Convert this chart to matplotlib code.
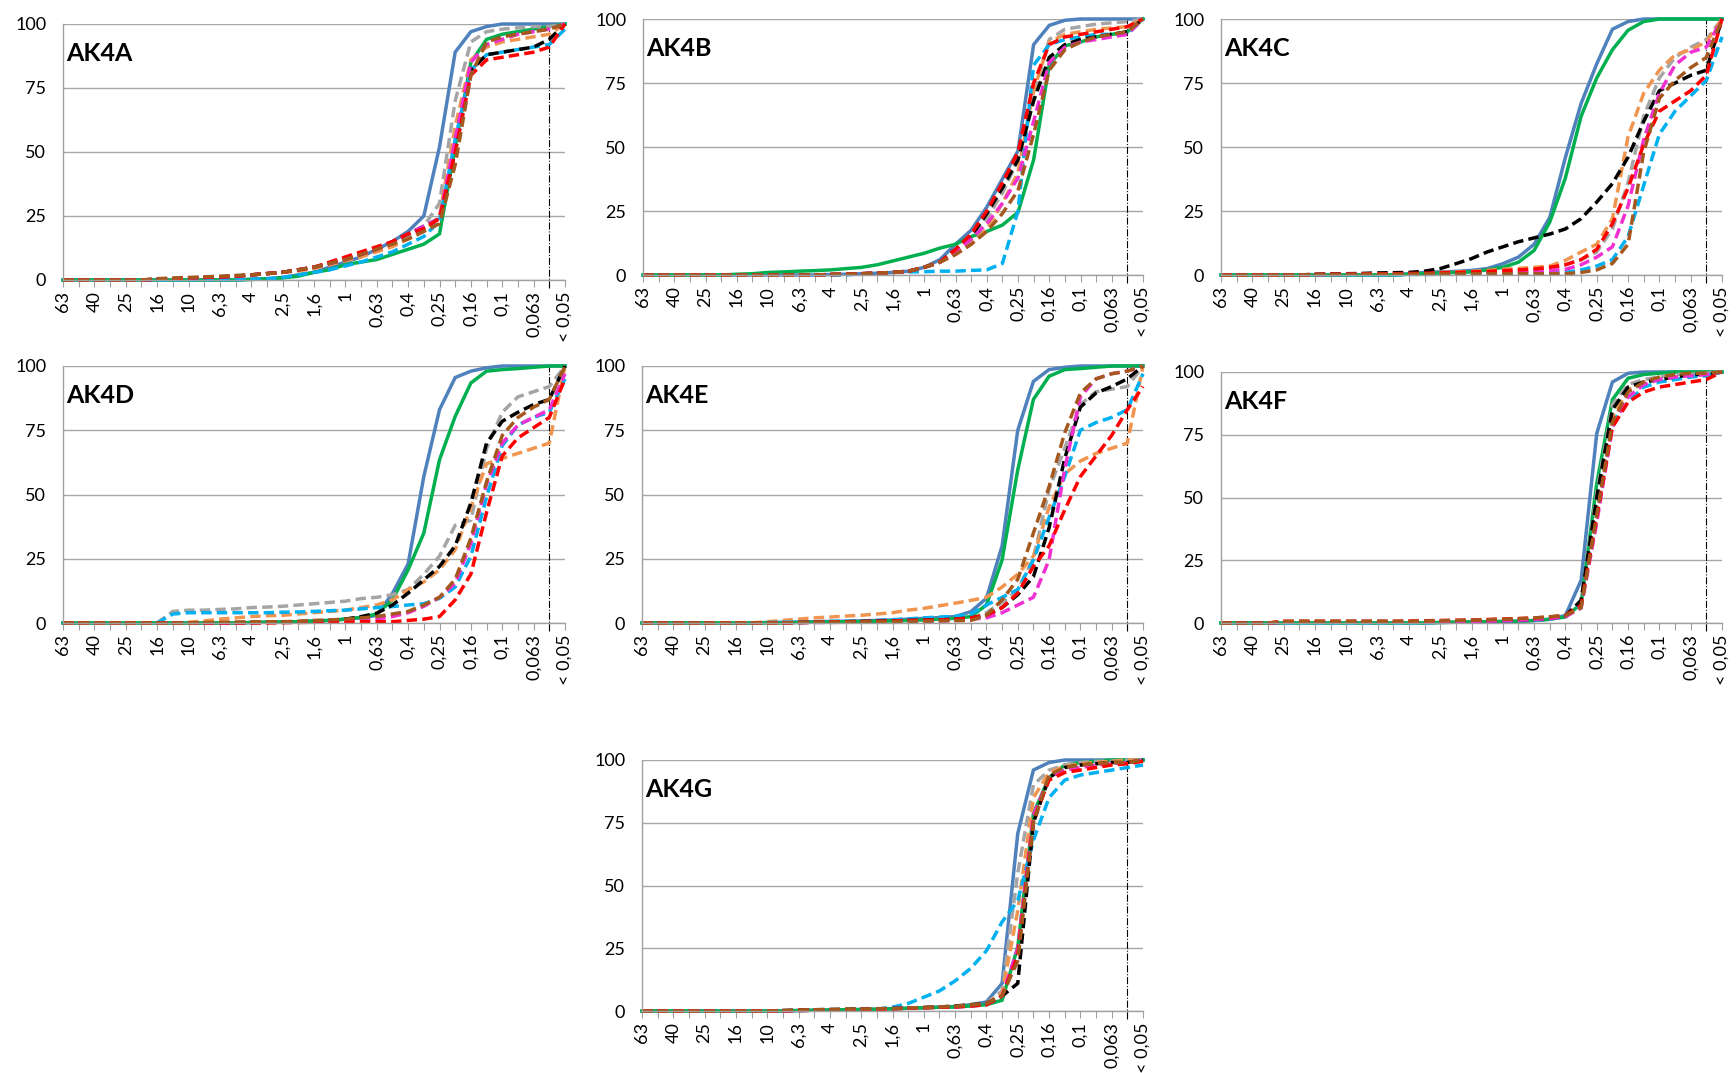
import matplotlib.pyplot as plt

plt.rcParams['font.family'] = ['Lato', 'DejaVu Sans']

# sieve sizes (mm); only every second one is labelled on the chart
tick_labels = ['63', '', '40', '', '25', '', '16', '', '10', '', '6,3', '', '4', '',
               '2,5', '', '1,6', '', '1', '', '0,63', '', '0,4', '', '0,25', '',
               '0,16', '', '0,1', '', '0,063', '', '< 0,05']
cutoff = 31  # position of the dash-dot marker line

series = ['blue', 'green', 'gray', 'orange', 'cyan', 'black', 'magenta', 'red', 'brown']
colors = {'blue': '#4F81BD', 'green': '#00B050', 'gray': '#A5A5A5', 'orange': '#F0954F',
          'cyan': '#00B0F0', 'black': '#000000', 'magenta': '#F030D0', 'red': '#FF0000',
          'brown': '#A5581E'}

AK4A = {
    'blue':    [0]*12 + [0.3, 0.5, 1, 2, 3, 5, 7, 9] + [12, 15, 19, 25, 52, 89, 97, 99, 100, 100, 100, 100, 100],
    'green':   [0]*12 + [0.2, 0.4, 0.8, 1.5, 3, 4, 6, 7] + [8, 10, 12, 14, 18, 52, 85, 94, 96, 97, 98, 99, 100],
    'gray':    [0]*6 + [0.3, 0.5, 0.8, 1, 1.2, 1.5, 2, 2.5, 3, 4, 5, 6.5, 8, 10] + [12, 14, 17, 21, 30, 70, 93, 97, 98, 98.5, 99, 99, 100],
    'orange':  [0]*6 + [0.3, 0.5, 0.8, 1, 1.2, 1.5, 2, 2.5, 3, 3.5, 4.5, 6, 7.5, 9] + [11, 13, 16, 19, 25, 60, 86, 91, 93, 94, 95, 96, 100],
    'brown':   [0]*6 + [0.5, 0.8, 1, 1.2, 1.5, 1.8, 2, 2.5, 3, 4, 5, 6.5, 8, 10] + [12, 14, 16, 19, 22, 45, 80, 93, 95, 96, 97, 98, 100],
    'black':   [0]*6 + [0.3, 0.5, 0.8, 1, 1.2, 1.5, 2, 2.5, 3, 4, 5, 6.5, 8, 10] + [12, 15, 18, 21, 24, 50, 82, 88, 89, 90, 91, 94, 100],
    'magenta': [0]*6 + [0.3, 0.5, 0.8, 1, 1.2, 1.5, 2, 2.5, 3, 4, 5, 6.5, 8, 10] + [12, 15, 18, 21, 24, 55, 85, 92, 94, 96, 97, 98, 100],
    'red':     [0]*6 + [0.3, 0.5, 0.8, 1, 1.2, 1.5, 2, 2.5, 3, 4, 5, 7, 9, 11] + [13, 15, 18, 20, 24, 50, 80, 86, 87, 88, 89, 91, 100],
    'cyan':    [0]*12 + [0.3, 0.5, 1, 2, 3, 4, 5.5, 7] + [9, 11, 14, 17, 23, 55, 82, 88, 89, 90, 91, 92, 98],
}

AK4B = {
    'blue':    [0]*12 + [0.2, 0.3, 0.5, 0.7, 1, 1.5, 3, 6] + [12, 17.5, 26.5, 37.5, 48.5, 90, 97.5, 99.5, 100, 100, 100, 100, 100],
    'green':   [0]*6 + [0.3, 0.5, 1, 1.2, 1.5, 1.7, 2, 2.5, 3, 4, 5.5, 7, 8.5, 10.5] + [12, 15, 17, 19.5, 24.5, 45, 82, 89.5, 91, 93, 94, 95, 100],
    'gray':    [0]*12 + [0.2, 0.3, 0.5, 0.7, 1, 1.5, 3, 5] + [9, 14, 22, 32, 45, 70, 92, 96, 97, 98, 98.5, 99, 100],
    'orange':  [0]*12 + [0.2, 0.3, 0.5, 0.7, 1, 1.5, 3, 5] + [8, 12, 18, 28, 40, 72, 91, 94, 95, 96, 96.5, 97, 100],
    'brown':   [0]*12 + [0.2, 0.3, 0.5, 0.7, 1, 1.5, 3, 5] + [8, 12, 17, 24, 33, 55, 80, 88, 91, 93, 94, 95, 100],
    'black':   [0]*12 + [0.2, 0.3, 0.5, 0.7, 1, 1.5, 3, 5] + [10, 15, 24, 34, 45, 68, 85, 90, 92, 93, 94, 95, 100],
    'magenta': [0]*12 + [0.2, 0.3, 0.5, 0.7, 1, 1.5, 3, 5] + [9, 14, 20, 28, 38, 60, 83, 89, 91, 92, 93, 94, 100],
    'red':     [0]*12 + [0.2, 0.3, 0.5, 0.7, 1, 1.5, 3, 5] + [10, 16, 25, 36, 48, 75, 90, 93, 94, 95, 96, 97, 100],
    'cyan':    [0]*14 + [0.5, 0.7, 1, 1.2, 1.3, 1.5] + [1.5, 1.8, 2, 4.5, 25, 82, 90, 92, 93, 94, 94, 94, 100],
}

AK4C = {
    'blue':    [0]*12 + [0.5, 1, 1.2, 1.4, 1.8, 2.5, 4.4, 7] + [12, 22.5, 46, 67, 82.5, 96, 99, 100, 100, 100, 100, 100, 100],
    'green':   [0]*12 + [0.3, 0.5, 0.8, 1, 1.2, 2, 3, 5] + [9.6, 20.7, 38, 62, 77, 88, 95.6, 99, 100, 100, 100, 100, 100],
    'black':   [0]*6 + [0.3, 0.4, 0.5, 0.6, 0.8, 0.9, 1, 1.5, 2.5, 4.4, 6.4, 9, 11, 13] + [14.5, 16, 18, 22, 28.5, 35.7, 46, 60, 72, 75, 78, 80, 100],
    'orange':  [0]*6 + [0.2, 0.3, 0.4, 0.5, 0.6, 0.7, 0.8, 0.9, 1, 1.2, 1.4, 1.8, 2.2, 2.6] + [3, 3.5, 5.7, 9, 12, 22, 54, 71, 80, 86, 88, 91, 100],
    'gray':    [0]*6 + [0.2, 0.3, 0.3, 0.4, 0.4, 0.5, 0.5, 0.6, 0.7, 0.8, 0.9, 1, 1.2, 1.5] + [2, 2.5, 4, 6, 9, 18, 36, 62, 77, 85, 89, 92, 100],
    'magenta': [0]*6 + [0.2, 0.2, 0.3, 0.3, 0.4, 0.4, 0.5, 0.5, 0.6, 0.7, 0.8, 0.9, 1, 1.2] + [1.5, 1.8, 2.2, 4, 7, 11, 27, 53, 71, 82, 87, 89, 100],
    'red':     [0]*6 + [0.2, 0.3, 0.3, 0.4, 0.5, 0.5, 0.6, 0.7, 0.8, 1, 1.2, 1.4, 1.7, 2] + [2.3, 3, 4, 6, 10, 20, 34, 51, 64, 68, 72, 78, 100],
    'cyan':    [0]*12 + [0.2, 0.2, 0.3, 0.3, 0.4, 0.5, 0.5, 0.6] + [0.7, 0.8, 1, 2, 3.5, 6, 15, 35, 55, 64, 70, 76, 93],
    'brown':   [0]*6 + [0.2, 0.2, 0.2, 0.3, 0.3, 0.3, 0.3, 0.4, 0.4, 0.4, 0.5, 0.5, 0.5, 0.5] + [0.5, 0.5, 0.5, 1, 2, 4.5, 12, 48, 69, 76, 81, 85, 100],
}

AK4D = {
    'blue':    [0]*12 + [0.2, 0.3, 0.4, 0.5, 0.8, 1, 1.5, 2] + [3, 11.5, 23, 57, 83, 95.5, 98, 99.3, 100, 100, 100, 100, 100],
    'green':   [0]*12 + [0.2, 0.3, 0.4, 0.5, 0.8, 1, 1.5, 2.2] + [3.5, 9, 20.7, 35, 63.5, 80.4, 93.4, 98, 98.6, 99, 99.5, 100, 100],
    'gray':    [0]*7 + [4.5, 5, 5, 5.3, 5.5, 6, 6.2, 6.5, 7, 7.5, 8, 8.5, 9.5] + [10, 11, 13, 19, 26, 38, 40, 68, 82, 88, 90, 92, 100],
    'cyan':    [0]*7 + [3.5, 4, 4, 4, 4, 4, 4, 4.2, 4.3, 4.5, 4.8, 5, 5.5] + [6, 6.4, 7, 7.5, 9.6, 14, 26, 49, 69, 77, 80, 82, 95],
    'orange':  [0]*8 + [0.3, 0.8, 1.5, 2, 2.5, 2.8, 3, 3.5, 4, 4.5, 5, 6] + [7, 9, 12.9, 16, 20.7, 28.5, 45, 62, 64, 66, 68, 70, 100],
    'brown':   [0]*9 + [0.2, 0.3, 0.4, 0.5, 0.5, 0.5, 0.7, 1, 1.2, 1.5, 2] + [2.5, 3.5, 4.5, 7, 10, 17, 33, 55, 73, 80, 84, 87, 100],
    'black':   [0]*12 + [0.2, 0.3, 0.4, 0.5, 0.7, 1, 1.5, 2.5] + [3.8, 7, 11.6, 16.8, 22, 30, 46.7, 70, 78.5, 82, 85, 87, 100],
    'magenta': [0]*12 + [0.1, 0.2, 0.3, 0.4, 0.5, 0.6, 0.8, 1.1] + [1.5, 2.5, 4, 6.5, 10, 15.5, 31, 54, 70, 77, 80, 83, 97],
    'red':     [0]*14 + [0.1, 0.2, 0.3, 0.3, 0.4, 0.5] + [0.5, 0.5, 1, 1.5, 2.5, 9, 19, 43, 65, 72, 76, 80, 95],
}

AK4E = {
    'blue':    [0]*8 + [0.2, 0.3, 0.4, 0.5, 0.6, 0.7, 0.8, 1, 1.2, 1.5, 1.8, 2.1] + [2.5, 4.4, 9.6, 30, 75, 94, 98.6, 99.5, 100, 100, 100, 100, 100],
    'green':   [0]*10 + [0.2, 0.3, 0.4, 0.5, 0.6, 0.7, 0.8, 1, 1.2, 1.5] + [1.8, 2.5, 7, 24.5, 59.6, 87, 96, 98.6, 99, 99.5, 100, 100, 100],
    'orange':  [0]*8 + [0.5, 1, 1.5, 2, 2.3, 2.7, 3, 3.5, 4, 5, 5.7, 6.7] + [7.7, 8.8, 10, 14, 19, 26, 45, 58, 63, 66, 68, 70, 100],
    'brown':   [0]*10 + [0.2, 0.3, 0.3, 0.4, 0.4, 0.5, 0.5, 0.6, 0.7, 0.8] + [0.9, 1, 3, 9, 17, 35, 53, 74, 89.5, 95, 97, 98, 100],
    'gray':    [0]*10 + [0.2, 0.3, 0.4, 0.5, 0.6, 0.7, 0.8, 1, 1.1, 1.2] + [1.5, 2, 4, 8, 13, 25, 52, 68, 85, 90, 91, 92, 100],
    'black':   [0]*10 + [0.2, 0.3, 0.4, 0.5, 0.6, 0.7, 0.8, 1, 1.1, 1.2] + [1.5, 2, 3, 6, 11, 18, 37, 64, 84, 89.5, 92, 95, 100],
    'magenta': [0]*10 + [0.1, 0.2, 0.2, 0.3, 0.3, 0.4, 0.5, 0.6, 0.7, 0.8] + [1, 1.5, 2, 4, 7, 10, 24.5, 60, 88, 95, 97, 98, 100],
    'red':     [0]*10 + [0.2, 0.3, 0.4, 0.5, 0.6, 0.7, 0.8, 1, 1.1, 1.2] + [1.5, 2, 3, 6, 11.6, 22, 30, 44, 57, 65, 73, 83, 92],
    'cyan':    [0]*8 + [0.2, 0.3, 0.4, 0.5, 0.6, 0.7, 0.8, 1, 1.3, 1.6, 2, 2.3] + [2.6, 3.5, 7, 10, 13, 24.5, 41, 57, 75, 78, 80, 83, 97],
}

AK4F = {
    'blue':    [0]*14 + [0.2, 0.3, 0.4, 0.5, 0.6, 0.7] + [1, 1.5, 3, 17, 75.5, 96, 99.5, 100, 100, 100, 100, 100, 100],
    'green':   [0]*14 + [0.2, 0.3, 0.4, 0.5, 0.6, 0.7] + [1, 1.5, 2.4, 7.7, 55.6, 89, 97.5, 99, 99.5, 100, 100, 100, 100],
    'gray':    [0]*14 + [0.3, 0.4, 0.5, 0.6, 0.8, 1] + [1.2, 1.6, 2.5, 9, 52, 87, 95, 97, 98, 99, 99, 99.5, 100],
    'orange':  [0]*4 + [0.4, 0.5, 0.5, 0.5, 0.5, 0.5, 0.5, 0.5, 0.5, 0.6, 0.7, 0.8, 0.9, 1, 1.2, 1.4] + [1.7, 2.2, 3, 8, 46, 82, 93, 96, 97.5, 98, 99, 99.5, 100],
    'brown':   [0]*4 + [0.6, 0.7, 0.7, 0.7, 0.7, 0.7, 0.7, 0.7, 0.7, 0.8, 0.9, 1, 1.1, 1.3, 1.5, 1.7] + [2, 2.5, 3, 6, 43, 80, 92, 96, 98, 99, 99.5, 99.5, 100],
    'black':   [0]*4 + [0.3]*10 + [0.4, 0.5, 0.6, 0.7, 0.9, 1.1] + [1.4, 1.8, 2.8, 9, 50, 85, 94, 96, 97, 98, 99, 99, 100],
    'magenta': [0]*4 + [0.3]*10 + [0.4, 0.5, 0.6, 0.7, 0.9, 1.1] + [1.4, 1.8, 2.5, 6, 40, 78, 90, 95, 97, 98, 98.5, 99, 100],
    'red':     [0]*4 + [0.7, 0.7, 0.7, 0.7, 0.7, 0.7, 0.7, 0.7, 0.8, 0.9, 1, 1.1, 1.2, 1.4, 1.6, 1.8] + [2, 2.4, 3, 7, 42, 78, 88, 92, 94, 95, 96, 97, 100],
    'cyan':    [0]*14 + [0.3, 0.4, 0.5, 0.6, 0.8, 1] + [1.2, 1.6, 2.6, 8, 45, 80, 88, 94, 96, 97, 98, 98.5, 100],
}

AK4G = {
    'blue':    [0]*10 + [0.2, 0.3, 0.4, 0.5, 0.6, 0.7, 0.9, 1.1, 1.3, 1.5] + [1.8, 2.5, 3.6, 11, 70.7, 96, 99, 100, 100, 100, 100, 100, 100],
    'green':   [0]*10 + [0.2, 0.3, 0.4, 0.5, 0.6, 0.7, 0.9, 1.1, 1.3, 1.5] + [1.6, 2, 2.5, 4.3, 25.5, 78.7, 93, 98, 99, 99.5, 100, 100, 100],
    'gray':    [0]*10 + [0.2, 0.3, 0.4, 0.5, 0.6, 0.7, 0.9, 1.1, 1.3, 1.5] + [1.8, 2.4, 3, 8, 55, 90, 96, 98, 99, 99.5, 99.5, 100, 100],
    'orange':  [0]*10 + [0.2, 0.3, 0.4, 0.5, 0.6, 0.7, 0.9, 1.1, 1.3, 1.5] + [1.8, 2.4, 3, 7, 40, 85, 95, 97.5, 98.5, 99, 99.5, 100, 100],
    'brown':   [0]*9 + [0.2, 0.4, 0.5, 0.6, 0.7, 0.8, 0.9, 1, 1.2, 1.4, 1.6] + [1.9, 2.4, 3, 6, 20, 75, 94, 97, 98, 98.5, 99, 99, 100],
    'black':   [0]*9 + [0.2, 0.4, 0.5, 0.6, 0.7, 0.8, 0.9, 1, 1.2, 1.4, 1.6] + [2, 2.5, 3, 6, 11, 75, 93, 97, 98, 98.5, 99, 99, 100],
    'magenta': [0]*10 + [0.2, 0.3, 0.4, 0.5, 0.6, 0.7, 0.9, 1.1, 1.3, 1.5] + [1.6, 2, 2.5, 6, 25, 78, 93, 96, 97, 98, 98.5, 99, 100],
    'red':     [0]*10 + [0.2, 0.3, 0.4, 0.5, 0.6, 0.7, 0.9, 1.1, 1.3, 1.5] + [1.6, 2, 2.5, 6, 22, 76, 92, 95, 96, 97, 98, 98.5, 99.5],
    'cyan':    [0]*10 + [0.2, 0.3, 0.4, 0.5, 0.6, 0.7, 1.5, 3, 5.5, 8] + [12, 17, 24, 35.5, 44, 68, 85, 92, 94, 95, 96, 97, 98],
}

panels = [('AK4A', AK4A), ('AK4B', AK4B), ('AK4C', AK4C), ('AK4D', AK4D),
          ('AK4E', AK4E), ('AK4F', AK4F), ('AK4G', AK4G)]

# plot-area boxes in pixels: left, top, right, bottom
W, H = 1736, 1073
boxes = {
    'AK4A': (63, 24, 565, 280), 'AK4B': (643, 19, 1143, 275), 'AK4C': (1221, 19, 1722, 275),
    'AK4D': (63, 366, 565, 623), 'AK4E': (642, 366, 1143, 623), 'AK4F': (1221, 372, 1722, 623),
    'AK4G': (642, 760, 1143, 1011),
}

fig = plt.figure(figsize=(W / 100, H / 100), dpi=100)

x = list(range(len(tick_labels)))
for name, data in panels:
    l, t, r, b = boxes[name]
    ax = fig.add_axes([l / W, 1 - b / H, (r - l) / W, (b - t) / H])
    for s in series:
        ls = '-' if s in ('blue', 'green') else '--'
        line, = ax.plot(x, data[s], color=colors[s], lw=2.5, ls=ls, clip_on=False,
                        solid_joinstyle='miter')
        if ls == '--':
            line.set_dashes((3, 1.5))
    ax.axvline(cutoff, ymin=-0.03, ymax=1, color='black', lw=0.8, ls='-.', clip_on=False, zorder=1)
    ax.set_xlim(0, len(tick_labels) - 1)
    ax.set_ylim(0, 100)
    ax.set_yticks([0, 25, 50, 75, 100])
    ax.set_xticks(x)
    ax.set_xticklabels(tick_labels, rotation=90, fontsize=13)
    ax.tick_params(axis='y', length=0, pad=12, labelsize=13)
    ax.tick_params(axis='x', length=5, width=0.8, color='#A0A0A0', pad=3)
    ax.yaxis.grid(True, color='#A6A6A6', lw=1)
    ax.set_axisbelow(True)
    for sp in ['top', 'right']:
        ax.spines[sp].set_visible(False)
    for sp in ['left', 'bottom']:
        ax.spines[sp].set_color('#A0A0A0')
        ax.spines[sp].set_linewidth(1)
    ax.text(0.006, 0.93, name, transform=ax.transAxes, fontsize=18, fontweight='bold',
            va='top', ha='left')

fig.savefig('out.png', dpi=100)
